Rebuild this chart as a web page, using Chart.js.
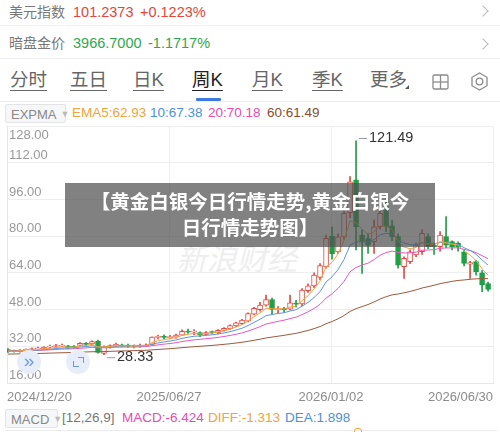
<!DOCTYPE html>
<html>
<head>
<meta charset="utf-8">
<script src="https://cdn.jsdelivr.net/npm/chart.js@4.4.1/dist/chart.umd.min.js"></script>
<style>
  html, body { margin: 0; padding: 0; background: #fff; }
  body { width: 500px; height: 432px; position: relative; overflow: hidden;
         font-family: "Liberation Sans", Arial, "Noto Sans CJK SC", sans-serif; }
  .abs { position: absolute; white-space: nowrap; }
  .sep { position: absolute; left: 0; width: 500px; height: 1px; background: #f0f0f0; }
  .chev { position: absolute; width: 7px; height: 7px; border-top: 1.5px solid #bbb; border-right: 1.5px solid #bbb; transform: rotate(45deg); }
  .tab { position: absolute; top: 68px; font-size: 18.5px; line-height: 24px; color: #666;
         text-decoration: underline; text-decoration-thickness: 1px; text-underline-offset: 4px; }
  .box { position: absolute; border: 1px solid #e4e4e4; background: #f6f7f9; border-radius: 2px;
         font-size: 13px; color: #888; line-height: 18px; padding-left: 5px; box-sizing: border-box; }
  .box i { font-style: normal; color: #bbb; font-size: 9px; margin-left: 4px; vertical-align: 2px; }
  .leg { position: absolute; font-size: 13.5px; line-height: 20px; }
  #wrap { position: absolute; left: 0; top: 0; width: 500px; height: 432px; z-index: 1; }
</style>
</head>
<body>
<!-- header rows -->
<div class="abs" style="left:9px;top:3px;font-size:14px;line-height:18px;color:#777">美元指数</div>
<div class="abs" style="left:73px;top:3px;font-size:14.5px;line-height:18px;color:#e8443a">101.2373</div>
<div class="abs" style="left:140px;top:3px;font-size:14.5px;line-height:18px;color:#e8443a">+0.1223%</div>
<div class="chev" style="left:479px;top:7px"></div>
<div class="sep" style="top:25px"></div>
<div class="abs" style="left:9px;top:34px;font-size:14px;line-height:18px;color:#777">暗盘金价</div>
<div class="abs" style="left:73px;top:34px;font-size:14.5px;line-height:18px;color:#2fa74a">3966.7000</div>
<div class="abs" style="left:148px;top:34px;font-size:14.5px;line-height:18px;color:#2fa74a">-1.1717%</div>
<div class="chev" style="left:479px;top:40px"></div>
<div class="sep" style="top:58px"></div>

<!-- period tabs -->
<div class="tab" style="left:10px">分时</div>
<div class="tab" style="left:70px">五日</div>
<div class="tab" style="left:133px">日K</div>
<div class="tab" style="left:192px;color:#222">周K</div>
<div class="tab" style="left:252px">月K</div>
<div class="tab" style="left:312px">季K</div>
<div class="tab" style="left:370px;text-decoration:none">更多</div>
<div class="abs" style="left:405px;top:85px;width:0;height:0;border-left:4px solid transparent;border-bottom:4px solid #555"></div>
<svg class="abs" style="left:432px;top:74px" width="17" height="16" viewBox="0 0 17 16">
  <rect x="1" y="1" width="15" height="14" rx="1.5" fill="none" stroke="#8c8c8c" stroke-width="1.3"/>
  <line x1="8.5" y1="1" x2="8.5" y2="15" stroke="#8c8c8c" stroke-width="1.3"/>
  <line x1="1" y1="8" x2="16" y2="8" stroke="#8c8c8c" stroke-width="1.3"/>
</svg>
<svg class="abs" style="left:470px;top:72px" width="19" height="19" viewBox="0 0 19 19">
  <polygon points="9.5,1 17,5.3 17,13.7 9.5,18 2,13.7 2,5.3" fill="none" stroke="#8c8c8c" stroke-width="1.3"/>
  <circle cx="9.5" cy="9.5" r="3.3" fill="none" stroke="#8c8c8c" stroke-width="1.3"/>
</svg>
<div class="abs" style="left:196px;top:98px;width:25px;height:3px;background:#3d7be0;border-radius:1px"></div>
<div class="sep" style="top:101px;background:#ececec"></div>

<!-- EXPMA legend -->
<div class="box" style="left:5px;top:104px;width:61px;height:19px">EXPMA<i>▼</i></div>
<div class="leg" style="left:72px;top:103px;color:#f2a33a">EMA5:62.93</div>
<div class="leg" style="left:150px;top:103px;color:#4d8fe0">10:67.38</div>
<div class="leg" style="left:208px;top:103px;color:#e84bb0">20:70.18</div>
<div class="leg" style="left:267px;top:103px;color:#8e4a2a">60:61.49</div>

<!-- watermark under the chart -->
<div class="abs" style="left:180px;top:240px;font-size:30px;line-height:34px;color:#eeeeee;transform:skewX(-14deg);font-family:'Noto Sans CJK SC'">新浪财经</div>

<div id="wrap"><canvas id="kline" width="500" height="432"></canvas></div>

<!-- headline overlay -->
<div class="abs" style="left:65px;top:183px;width:370px;height:64px;z-index:3;background:rgba(80,80,80,0.72);color:#fff;text-align:center;font-weight:bold;font-size:19.5px;line-height:26px;padding-top:5px;box-sizing:border-box;font-family:'Noto Sans CJK SC',sans-serif">【黄金白银今日行情走势,黄金白银今<br>日行情走势图】</div>

<!-- round buttons -->
<div class="abs" style="left:17px;top:350px;width:24px;height:24px;border-radius:50%;background:#e7eefa;z-index:3;color:#6b9be6;font-size:19px;line-height:22px;text-align:center">»</div>
<div class="abs" style="left:66px;top:350px;width:24px;height:24px;border-radius:50%;background:#e7eefa;z-index:3">
  <div class="abs" style="left:12px;top:7px;width:5px;height:5px;border-top:1.5px solid #6b9be6;border-right:1.5px solid #6b9be6"></div>
  <div class="abs" style="left:7px;top:11px;width:5px;height:5px;border-bottom:1.5px solid #6b9be6;border-left:1.5px solid #6b9be6"></div>
</div>

<!-- MACD row -->
<div class="box" style="left:5px;top:409px;width:53px;height:19px">MACD<i>▼</i></div>
<div class="leg" style="left:62px;top:408px;color:#777">[12,26,9]</div>
<div class="leg" style="left:122px;top:408px;color:#e84bb0">MACD:-6.424</div>
<div class="leg" style="left:208px;top:408px;color:#f2a33a">DIFF:-1.313</div>
<div class="leg" style="left:285px;top:408px;color:#4d8fe0">DEA:1.898</div>
<div class="abs" style="left:5px;top:430px;width:492px;height:1px;background:#ececec"></div>
<div class="abs" style="left:354px;top:428px;width:8px;height:8px;border:1.5px solid #f2a33a;border-radius:3px;box-sizing:border-box"></div>

<script>
// 周K数据 (2024/12/20 起, 每周一根)
const opens = [30.6, 30.0, 29.7, 30.2, 30.6, 30.9, 31.0, 31.6, 31.9, 32.1,
  32.2, 32.0, 32.4, 33.2, 33.0, 34.2, 28.9, 31.6, 32.2, 32.6,
  32.5, 31.9, 31.8, 32.2, 32.8, 35.9, 36.0, 35.8, 36.0, 36.8,
  38.4, 38.2, 38.0, 37.2, 38.2, 37.9, 38.9, 39.6, 40.9, 41.9,
  42.9, 46.0, 48.0, 49.9, 52.4, 48.0, 48.2, 48.2, 50.8, 50.5,
  56.2, 58.3, 62.0, 66.6, 80.0, 73.1, 79.7, 90.2, 104.5, 80.5,
  78.9, 77.6, 84.1, 92.8, 84.5, 79.8, 66.7, 68.9, 71.8, 73.2,
  79.8, 76.1, 75.4, 79.8, 77.6, 76.9, 73.2, 67.8, 68.9, 64.0,
  59.3];
const highs = [31.0, 30.3, 30.6, 30.9, 31.3, 31.6, 31.9, 32.5, 32.8, 33.0,
  32.4, 32.3, 33.6, 33.6, 34.4, 34.7, 32.2, 32.6, 33.4, 33.0,
  33.0, 32.6, 33.0, 33.1, 36.1, 36.9, 37.0, 36.8, 37.3, 39.2,
  39.5, 39.3, 38.3, 38.4, 38.6, 39.3, 40.1, 41.4, 42.6, 43.8,
  46.6, 49.0, 51.2, 54.3, 53.0, 49.3, 49.0, 54.3, 52.0, 57.2,
  59.2, 64.0, 68.0, 80.5, 84.0, 81.0, 91.0, 106.0, 121.49, 82.7,
  81.0, 87.0, 94.3, 97.2, 87.0, 81.0, 71.0, 74.0, 77.0, 82.7,
  81.0, 77.0, 82.0, 88.5, 78.0, 77.5, 74.0, 69.0, 69.5, 65.0,
  60.0];
const lows = [29.3, 29.4, 29.4, 29.8, 30.1, 30.4, 30.7, 31.2, 31.5, 31.8,
  31.0, 31.2, 32.2, 32.4, 32.7, 29.0, 28.33, 31.2, 31.9, 31.8,
  31.5, 31.3, 31.5, 32.0, 32.6, 35.2, 35.3, 35.3, 35.5, 36.6,
  37.6, 37.1, 36.2, 36.9, 37.5, 37.4, 38.6, 39.3, 40.6, 41.6,
  42.6, 45.7, 47.3, 49.5, 46.0, 46.5, 46.9, 47.8, 49.0, 49.6,
  55.5, 57.5, 61.0, 66.0, 70.0, 72.5, 78.5, 88.0, 74.0, 63.8,
  72.5, 72.5, 83.0, 82.0, 78.0, 66.0, 61.6, 68.0, 71.0, 72.0,
  74.5, 72.0, 73.5, 75.0, 74.0, 73.5, 67.0, 61.6, 63.0, 55.8,
  56.0];
const closes = [29.6, 29.8, 30.3, 30.5, 30.7, 31.0, 31.5, 31.8, 32.1, 32.3,
  31.3, 31.6, 33.3, 32.8, 34.0, 29.3, 31.8, 32.3, 32.8, 32.2,
  32.0, 32.0, 32.4, 32.6, 36.0, 36.1, 35.9, 36.0, 36.9, 38.5,
  38.2, 38.3, 37.0, 38.0, 38.0, 39.0, 39.8, 41.0, 42.2, 43.4,
  46.3, 48.5, 50.0, 52.4, 48.1, 48.3, 48.0, 50.9, 50.3, 56.5,
  58.3, 63.0, 67.2, 79.0, 72.4, 79.7, 89.9, 103.7, 84.1, 77.6,
  76.1, 84.1, 89.9, 84.1, 79.8, 67.4, 70.3, 73.2, 76.1, 81.2,
  75.4, 75.4, 80.5, 76.1, 75.4, 75.2, 68.1, 68.5, 64.5, 58.7,
  56.8];

// EXPMA 均线
const ema5 = [29.90, 29.87, 30.01, 30.17, 30.35, 30.57, 30.88, 31.19, 31.49, 31.76,
  31.61, 31.61, 32.17, 32.38, 32.92, 31.71, 31.74, 31.93, 32.22, 32.21,
  32.14, 32.09, 32.19, 32.33, 33.55, 34.40, 34.90, 35.27, 35.81, 36.71,
  37.21, 37.57, 37.38, 37.59, 37.73, 38.15, 38.70, 39.47, 40.38, 41.39,
  43.03, 44.85, 46.57, 48.51, 48.37, 48.35, 48.23, 49.12, 49.51, 51.84,
  53.99, 56.99, 60.39, 66.59, 68.53, 72.25, 78.13, 86.65, 85.80, 83.07,
  80.75, 81.87, 84.52, 84.38, 82.85, 77.70, 75.23, 74.55, 75.07, 77.11,
  76.54, 76.16, 77.61, 77.11, 76.54, 76.09, 73.43, 71.79, 69.36, 65.81,
  62.93];
const ema10 = [29.80, 29.80, 29.89, 30.00, 30.13, 30.29, 30.51, 30.74, 30.99, 31.23,
  31.24, 31.31, 31.67, 31.88, 32.27, 31.73, 31.74, 31.84, 32.01, 32.05,
  32.04, 32.03, 32.10, 32.19, 32.88, 33.47, 33.91, 34.29, 34.77, 35.45,
  35.95, 36.38, 36.49, 36.76, 36.99, 37.36, 37.80, 38.38, 39.08, 39.87,
  41.04, 42.40, 43.78, 45.35, 45.85, 46.30, 46.61, 47.39, 47.92, 49.48,
  51.09, 53.26, 55.80, 60.02, 62.27, 65.44, 69.89, 76.04, 77.51, 77.53,
  77.27, 78.49, 80.57, 81.21, 80.95, 78.48, 76.99, 76.30, 76.26, 77.16,
  76.84, 76.58, 77.29, 77.07, 76.77, 76.48, 74.95, 73.78, 72.09, 69.65,
  67.38];
const ema20 = [30.00, 29.98, 30.01, 30.06, 30.12, 30.20, 30.32, 30.46, 30.62, 30.78,
  30.83, 30.90, 31.13, 31.29, 31.55, 31.34, 31.38, 31.47, 31.60, 31.66,
  31.69, 31.72, 31.78, 31.86, 32.25, 32.62, 32.93, 33.22, 33.57, 34.04,
  34.44, 34.81, 35.02, 35.30, 35.56, 35.89, 36.26, 36.71, 37.23, 37.82,
  38.63, 39.57, 40.56, 41.69, 42.30, 42.87, 43.36, 44.08, 44.67, 45.80,
  46.99, 48.51, 50.29, 53.02, 54.87, 57.23, 60.34, 64.47, 66.34, 67.41,
  68.24, 69.75, 71.66, 72.84, 73.50, 72.92, 72.67, 72.72, 73.04, 73.82,
  73.97, 74.10, 74.71, 74.84, 74.89, 74.91, 74.26, 73.71, 72.83, 71.48,
  70.18];
const ema60 = [28.60, 28.64, 28.69, 28.74, 28.80, 28.86, 28.94, 29.02, 29.10, 29.17,
  29.24, 29.31, 29.43, 29.52, 29.63, 29.63, 29.70, 29.79, 29.89, 29.96,
  30.03, 30.10, 30.18, 30.26, 30.44, 30.62, 30.79, 30.96, 31.16, 31.39,
  31.61, 31.82, 31.99, 32.19, 32.38, 32.60, 32.84, 33.11, 33.42, 33.75,
  34.15, 34.61, 35.09, 35.63, 36.01, 36.39, 36.76, 37.22, 37.64, 38.26,
  38.90, 39.70, 40.60, 41.83, 42.80, 43.98, 45.40, 47.20, 48.40, 49.30,
  50.20, 51.30, 52.60, 53.60, 54.40, 54.80, 55.30, 55.90, 56.60, 57.40,
  58.00, 58.60, 59.30, 59.80, 60.30, 60.70, 60.90, 61.20, 61.40, 61.50,
  61.49];

const yTicks = [16, 32, 48, 64, 80, 96, 112, 128];
const dateLabels = ['2024/12/20', '2025/06/27', '2026/01/02', '2026/06/30'];

const UP = '#e8473e';
const DOWN = '#1f9e44';
const isDown = (i) => i !== undefined && closes[i] < opens[i];

const bodies = opens.map((o, i) => ({ x: i, y: [o, closes[i]] }));
const wicks = lows.map((l, i) => ({ x: i, y: [l, highs[i]] }));
const asLine = (arr) => arr.map((v, i) => ({ x: i, y: v }));
const emaLine = (arr, color) => ({
  type: 'line', data: asLine(arr), borderColor: color, borderWidth: 1,
  pointRadius: 0, tension: 0, order: 0
});

// 价格刻度文字 + 最高/最低标注
const priceLabels = {
  id: 'priceLabels',
  beforeDatasetsDraw(chart) {
    const { ctx, chartArea, scales: { y } } = chart;
    ctx.save();
    ctx.font = '13px "Liberation Sans", Arial, sans-serif';
    ctx.fillStyle = '#999';
    ctx.textAlign = 'left';
    ctx.textBaseline = 'middle';
    yTicks.forEach(v => {
      const py = y.getPixelForValue(v);
      ctx.fillText(v.toFixed(2), chartArea.left + 2, v === y.max ? py + 9 : py - 7.5);
    });
    ctx.restore();
  },
  afterDatasetsDraw(chart) {
    const { ctx, scales: { x, y } } = chart;
    const hi = highs.indexOf(Math.max(...highs));
    const lo = lows.indexOf(Math.min(...lows));
    ctx.save();
    ctx.font = '14.5px "Liberation Sans", Arial, sans-serif';
    ctx.textBaseline = 'middle';
    const mark = (i, v, dy) => {
      const px = x.getPixelForValue(i);
      const py = y.getPixelForValue(v) + dy;
      ctx.strokeStyle = '#999';
      ctx.lineWidth = 1;
      ctx.beginPath();
      ctx.moveTo(px + 3, py + 0.5);
      ctx.lineTo(px + 11, py + 0.5);
      ctx.stroke();
      ctx.fillStyle = '#333';
      ctx.fillText(v.toFixed(2), px + 13, py);
    };
    mark(hi, highs[hi], -3);
    mark(lo, lows[lo], 2.5);
    ctx.restore();
  }
};

Chart.defaults.font.family = '"Liberation Sans", Arial, sans-serif';

new Chart(document.getElementById('kline').getContext('2d'), {
  type: 'bar',
  plugins: [priceLabels],
  data: {
    datasets: [
      emaLine(ema5, '#f2a33a'),
      emaLine(ema10, '#5a95e0'),
      emaLine(ema20, '#e858c0'),
      emaLine(ema60, '#9a5a3c'),
      {
        data: bodies,
        backgroundColor: (c) => isDown(c.dataIndex) ? DOWN : '#ffffff',
        borderColor: (c) => isDown(c.dataIndex) ? DOWN : UP,
        borderWidth: 1,
        borderSkipped: false,
        barThickness: 5,
        minBarLength: 1,
        grouped: false,
        order: 1
      },
      {
        data: wicks,
        backgroundColor: (c) => isDown(c.dataIndex) ? DOWN : UP,
        borderWidth: 0,
        barThickness: 1,
        grouped: false,
        order: 2
      }
    ]
  },
  options: {
    responsive: false,
    animation: false,
    devicePixelRatio: 1,
    layout: { padding: { left: 5, right: 3, top: 126, bottom: 27 } },
    plugins: { legend: { display: false }, tooltip: { enabled: false } },
    scales: {
      x: {
        type: 'linear',
        min: -0.165,
        max: 80.82,
        offset: false,
        grid: { color: '#eeeeee', drawTicks: false, offset: false },
        border: { color: '#e6e6e6' },
        afterBuildTicks: (s) => {
          const r = s.max - s.min;
          s.ticks = [0, 1, 2, 3].map(k => ({ value: s.min + r * k / 3 }));
        },
        afterFit: (s) => { s.height = 22; },
        ticks: {
          align: 'inner', autoSkip: false, maxRotation: 0, padding: 7,
          color: '#8c8c8c', font: { size: 13 },
          callback: (v, i) => dateLabels[i]
        }
      },
      y: {
        min: 16,
        max: 128,
        grid: { color: '#eeeeee', drawTicks: false },
        border: { color: '#e6e6e6' },
        afterBuildTicks: (s) => { s.ticks = yTicks.map(v => ({ value: v })); },
        afterFit: (s) => { s.width = 0; },
        ticks: { display: false }
      }
    }
  }
});
</script>
</body>
</html>
